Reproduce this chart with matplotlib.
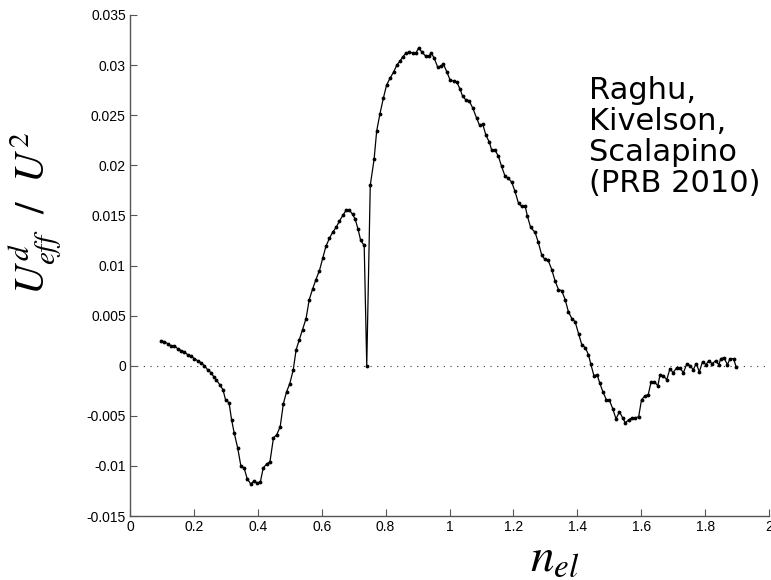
import matplotlib
matplotlib.use('Agg')
import matplotlib.pyplot as plt
import numpy as np

# ── DATA ─────────────────────────────────────────────────────────────────────
n_el = [
    0.097, 0.107, 0.118, 0.128, 0.139, 0.149, 0.160, 0.170, 0.180, 0.191,
    0.201, 0.212, 0.222, 0.233, 0.243, 0.254, 0.262, 0.270, 0.281, 0.291,
    0.299, 0.310, 0.318, 0.326, 0.337, 0.347, 0.357, 0.367, 0.378, 0.388,
    0.398, 0.408, 0.417, 0.428, 0.438, 0.449, 0.459, 0.470, 0.480, 0.490,
    0.500, 0.511, 0.520, 0.530, 0.540, 0.551, 0.561, 0.572, 0.582, 0.593,
    0.603, 0.613, 0.624, 0.634, 0.645, 0.655, 0.666, 0.676, 0.687, 0.697,
    0.705, 0.714, 0.722, 0.733, 0.741, 0.752, 0.764, 0.772, 0.782, 0.793,
    0.803, 0.814, 0.825, 0.835, 0.845, 0.853, 0.864, 0.874, 0.885, 0.895,
    0.903, 0.914, 0.925, 0.935, 0.943, 0.952, 0.963, 0.973, 0.981, 0.992,
    1.002, 1.013, 1.023, 1.033, 1.041, 1.052, 1.062, 1.073, 1.085, 1.094,
    1.104, 1.114, 1.125, 1.132, 1.143, 1.153, 1.163, 1.174, 1.184, 1.195,
    1.205, 1.216, 1.226, 1.237, 1.244, 1.254, 1.268, 1.278, 1.289, 1.299,
    1.309, 1.320, 1.330, 1.341, 1.351, 1.362, 1.372, 1.383, 1.393, 1.404,
    1.414, 1.425, 1.435, 1.442, 1.452, 1.462, 1.470, 1.480, 1.491, 1.500,
    1.511, 1.521, 1.532, 1.542, 1.550, 1.561, 1.571, 1.582, 1.592, 1.601,
    1.612, 1.622, 1.631, 1.641, 1.652, 1.659, 1.669, 1.680, 1.690, 1.700,
    1.711, 1.721, 1.732, 1.743, 1.753, 1.763, 1.772, 1.782, 1.792, 1.803,
    1.811, 1.822, 1.833, 1.843, 1.849, 1.859, 1.870, 1.878, 1.889, 1.897,
]
u_eff = [
    0.0025, 0.0024, 0.0022, 0.0020, 0.0020, 0.0017, 0.0015, 0.0014, 0.0011, 0.0010,
    0.0007, 0.0005, 0.0003, 0.0000, -0.0004, -0.0007, -0.0011, -0.0014, -0.0019, -0.0024,
    -0.0034, -0.0037, -0.0054, -0.0067, -0.0082, -0.0100, -0.0102, -0.0113, -0.0118, -0.0115,
    -0.0117, -0.0116, -0.0102, -0.0098, -0.0096, -0.0072, -0.0069, -0.0061, -0.0038, -0.0026,
    -0.0018, -0.0004, 0.0016, 0.0026, 0.0036, 0.0047, 0.0066, 0.0077, 0.0086, 0.0095,
    0.0107, 0.0119, 0.0127, 0.0133, 0.0138, 0.0144, 0.0150, 0.0155, 0.0155, 0.0151,
    0.0146, 0.0136, 0.0125, 0.0120, 0.0000, 0.0180, 0.0206, 0.0234, 0.0251, 0.0267,
    0.0280, 0.0287, 0.0293, 0.0300, 0.0304, 0.0308, 0.0312, 0.0313, 0.0312, 0.0312,
    0.0317, 0.0313, 0.0309, 0.0309, 0.0312, 0.0307, 0.0298, 0.0299, 0.0301, 0.0293,
    0.0285, 0.0284, 0.0283, 0.0276, 0.0269, 0.0265, 0.0264, 0.0257, 0.0247, 0.0240,
    0.0241, 0.0230, 0.0223, 0.0215, 0.0215, 0.0209, 0.0199, 0.0189, 0.0187, 0.0183,
    0.0174, 0.0162, 0.0159, 0.0159, 0.0149, 0.0138, 0.0133, 0.0123, 0.0110, 0.0106,
    0.0105, 0.0096, 0.0085, 0.0076, 0.0075, 0.0066, 0.0054, 0.0047, 0.0044, 0.0032,
    0.0021, 0.0018, 0.0011, 0.0002, -0.0010, -0.0009, -0.0017, -0.0026, -0.0034, -0.0034,
    -0.0043, -0.0053, -0.0046, -0.0052, -0.0057, -0.0054, -0.0052, -0.0052, -0.0051, -0.0034,
    -0.0030, -0.0029, -0.0016, -0.0016, -0.0020, -0.0009, -0.0010, -0.0014, -0.0003, -0.0007,
    -0.0002, -0.0002, -0.0007, 0.0002, 0.0000, -0.0004, 0.0002, -0.0006, 0.0004, 0.0001,
    0.0005, 0.0002, 0.0005, 0.0001, 0.0007, 0.0008, 0.0001, 0.0007, 0.0007, -0.0001,
]

x_ticks = [0, 0.2, 0.4, 0.6, 0.8, 1.0, 1.2, 1.4, 1.6, 1.8, 2.0]
y_ticks = [-0.015, -0.01, -0.005, 0, 0.005, 0.01, 0.015, 0.02, 0.025, 0.03, 0.035]

# ── STYLE ────────────────────────────────────────────────────────────────────
plt.rcParams.update({
    'mathtext.fontset': 'stix',
    'font.size': 10,
})
SPINE = "#555555"

fig = plt.figure(figsize=(7.71, 5.80), dpi=100, facecolor='white')
ax = fig.add_axes([130/771, 64/580, 639/771, 501/580])

ax.axhline(0, color='#333333', lw=0.8, ls=(0, (1, 5)), zorder=1)
ax.plot(n_el, u_eff, color='black', lw=0.9, marker='.', ms=3.5, zorder=3)

ax.set_xlim(0, 2)
ax.set_ylim(-0.015, 0.035)
ax.set_xticks(x_ticks)
ax.set_xticklabels([f"{t:g}" for t in x_ticks], family='Liberation Sans', fontsize=10)
ax.set_yticks(y_ticks)
ax.set_yticklabels([f"{t:g}" for t in y_ticks], family='Liberation Sans', fontsize=10)
ax.tick_params(direction='in', length=5, width=0.8, color=SPINE, pad=3)

ax.spines['top'].set_visible(False)
ax.spines['right'].set_visible(False)
for s in ('left', 'bottom'):
    ax.spines[s].set_color(SPINE)
    ax.spines[s].set_linewidth(1.0)

# axis labels (placed like the original scan)
fig.text(35/771, 1 - 213/580, r'$U^d_{eff}\ \ /\ \ U^2$', rotation=90,
         ha='center', va='center', fontsize=30)
fig.text(555/771, 1 - 558/580, r'$n_{el}$', ha='center', va='center', fontsize=34)

# citation
ax.text(589/771, 1 - 76/580, "Raghu,\nKivelson,\nScalapino\n(PRB 2010)",
        transform=fig.transFigure, ha='left', va='top', fontsize=22,
        family='DejaVu Sans', linespacing=1.08)

plt.savefig('out.png', dpi=100, facecolor='white')
